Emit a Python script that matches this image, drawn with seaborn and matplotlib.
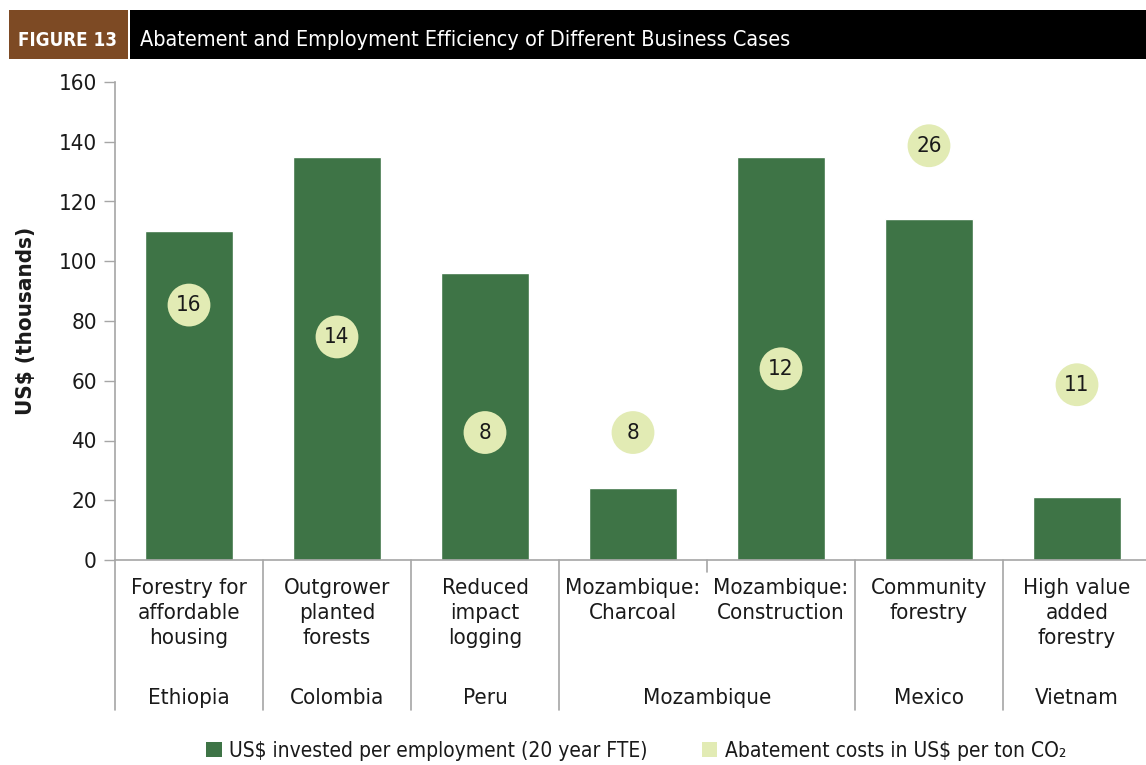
import matplotlib
matplotlib.use("Agg")
import matplotlib.pyplot as plt
import matplotlib.transforms as mtransforms
from matplotlib.patches import Rectangle
from matplotlib.lines import Line2D
import seaborn as sns
import pandas as pd

sns.set_theme(style="white")
plt.rcParams['font.family'] = ['DejaVu Sans']
plt.rcParams['font.stretch'] = 'condensed'

# ---- data ----
cases = ["Forestry for\naffordable\nhousing", "Outgrower\nplanted\nforests", "Reduced\nimpact\nlogging",
         "Mozambique:\nCharcoal", "Mozambique:\nConstruction", "Community\nforestry",
         "High value\nadded\nforestry"]
countries = ["Ethiopia", "Colombia", "Peru", "Mozambique", "Mozambique", "Mexico", "Vietnam"]
invested = [110, 135, 96, 24, 135, 114, 21]
abatement = [16, 14, 8, 8, 12, 26, 11]
y_ticks = [0, 20, 40, 60, 80, 100, 120, 140, 160]

BAR = "#3e7446"
BUB = "#e2ebb4"
GRID = "#a6a6a6"
TXT = "#1a1a1a"
FS = 16

df = pd.DataFrame({"case": cases, "country": countries,
                   "invested": invested, "abatement": abatement})

W, H = 1146, 765
fig = plt.figure(figsize=(W / 100, H / 100), dpi=100)
ax = fig.add_axes([115 / W, (H - 560) / H, (1151 - 115) / W, (560 - 82) / H])

sns.barplot(data=df, x="case", y="invested", color=BAR, width=0.59,
            saturation=1, ax=ax, zorder=2)
ax.set_xlim(-0.5, len(cases) - 0.5)
ax.set_ylim(0, 160)
ax.set_yticks(y_ticks)
ax.tick_params(axis="y", length=8, width=1, color=GRID, labelsize=FS, pad=5, left=True,
               labelcolor=TXT)
ax.tick_params(axis="x", length=0, labelsize=FS, pad=13, labelcolor=TXT)
ax.set_xticks(range(len(cases)))
ax.set_xticklabels(cases, linespacing=1.3, va="top")
ax.set_xlabel("")
ax.set_ylabel("US$ (thousands)", fontsize=FS, fontweight="bold", labelpad=16, color=TXT)
for s in ["top", "right"]:
    ax.spines[s].set_visible(False)
for s in ["left", "bottom"]:
    ax.spines[s].set_color(GRID)
    ax.spines[s].set_linewidth(1.2)

# secondary axis for abatement bubbles
ax2 = ax.twinx()
ax2.set_ylim(0, 30)
sns.scatterplot(data=df, x="case", y="abatement", s=950, color=BUB,
                edgecolor="none", ax=ax2, zorder=3, legend=False)
ax2.set_xlim(-0.5, len(cases) - 0.5)
ax2.axis("off")
for i, v in enumerate(abatement):
    ax2.text(i, v, str(v), ha="center", va="center", fontsize=FS, color=TXT, zorder=4)

# category separators and country labels
trans = mtransforms.blended_transform_factory(ax.transData, ax.transAxes)
depth = (710 - 560) / (560 - 82)
groups = []
for i, c in enumerate(countries):
    if groups and groups[-1][0] == c:
        groups[-1][2] = i
    else:
        groups.append([c, i, i])
bounds_full = [-0.5] + [g[2] + 0.5 for g in groups]
for b in bounds_full:
    ax.add_line(Line2D([b, b], [0, -depth], transform=trans, color=GRID, lw=1.2, clip_on=False))
for g in groups:
    for k in range(g[1], g[2]):
        ax.add_line(Line2D([k + 0.5, k + 0.5], [0, -12 / 478], transform=trans,
                           color=GRID, lw=1.2, clip_on=False))
    ax.text((g[1] + g[2]) / 2, -(698 - 560) / 478, g[0], transform=trans,
            ha="center", va="center", fontsize=FS, color=TXT)

# header
fig.patches.append(Rectangle((9 / W, (H - 59) / H), 119 / W, 49 / H, transform=fig.transFigure,
                             facecolor="#7d4a24", edgecolor="none", zorder=0))
fig.patches.append(Rectangle((130 / W, (H - 59) / H), (W - 130) / W, 49 / H,
                             transform=fig.transFigure, facecolor="black", edgecolor="none", zorder=0))
fig.text(67 / W, (H - 40) / H, "FIGURE 13", color="white", fontsize=13.5, fontweight="bold",
         ha="center", va="center")
fig.text(140 / W, (H - 40) / H, "Abatement and Employment Efficiency of Different Business Cases",
         color="white", fontsize=15.5, fontweight="normal", ha="left", va="center")

# legend
handles = [Rectangle((0, 0), 1, 1, facecolor=BAR, edgecolor="none"),
           Rectangle((0, 0), 1, 1, facecolor=BUB, edgecolor="none")]
labels = ["US$ invested per employment (20 year FTE)", "Abatement costs in US$ per ton CO₂"]
leg = fig.legend(handles, labels, loc="center", bbox_to_anchor=(636 / W, (H - 751) / H),
                 ncol=2, frameon=False, fontsize=15, handlelength=0.75, handleheight=0.75,
                 handletextpad=0.35, columnspacing=2.6)
for t in leg.get_texts():
    t.set_color(TXT)

fig.savefig("out.png", dpi=100)
